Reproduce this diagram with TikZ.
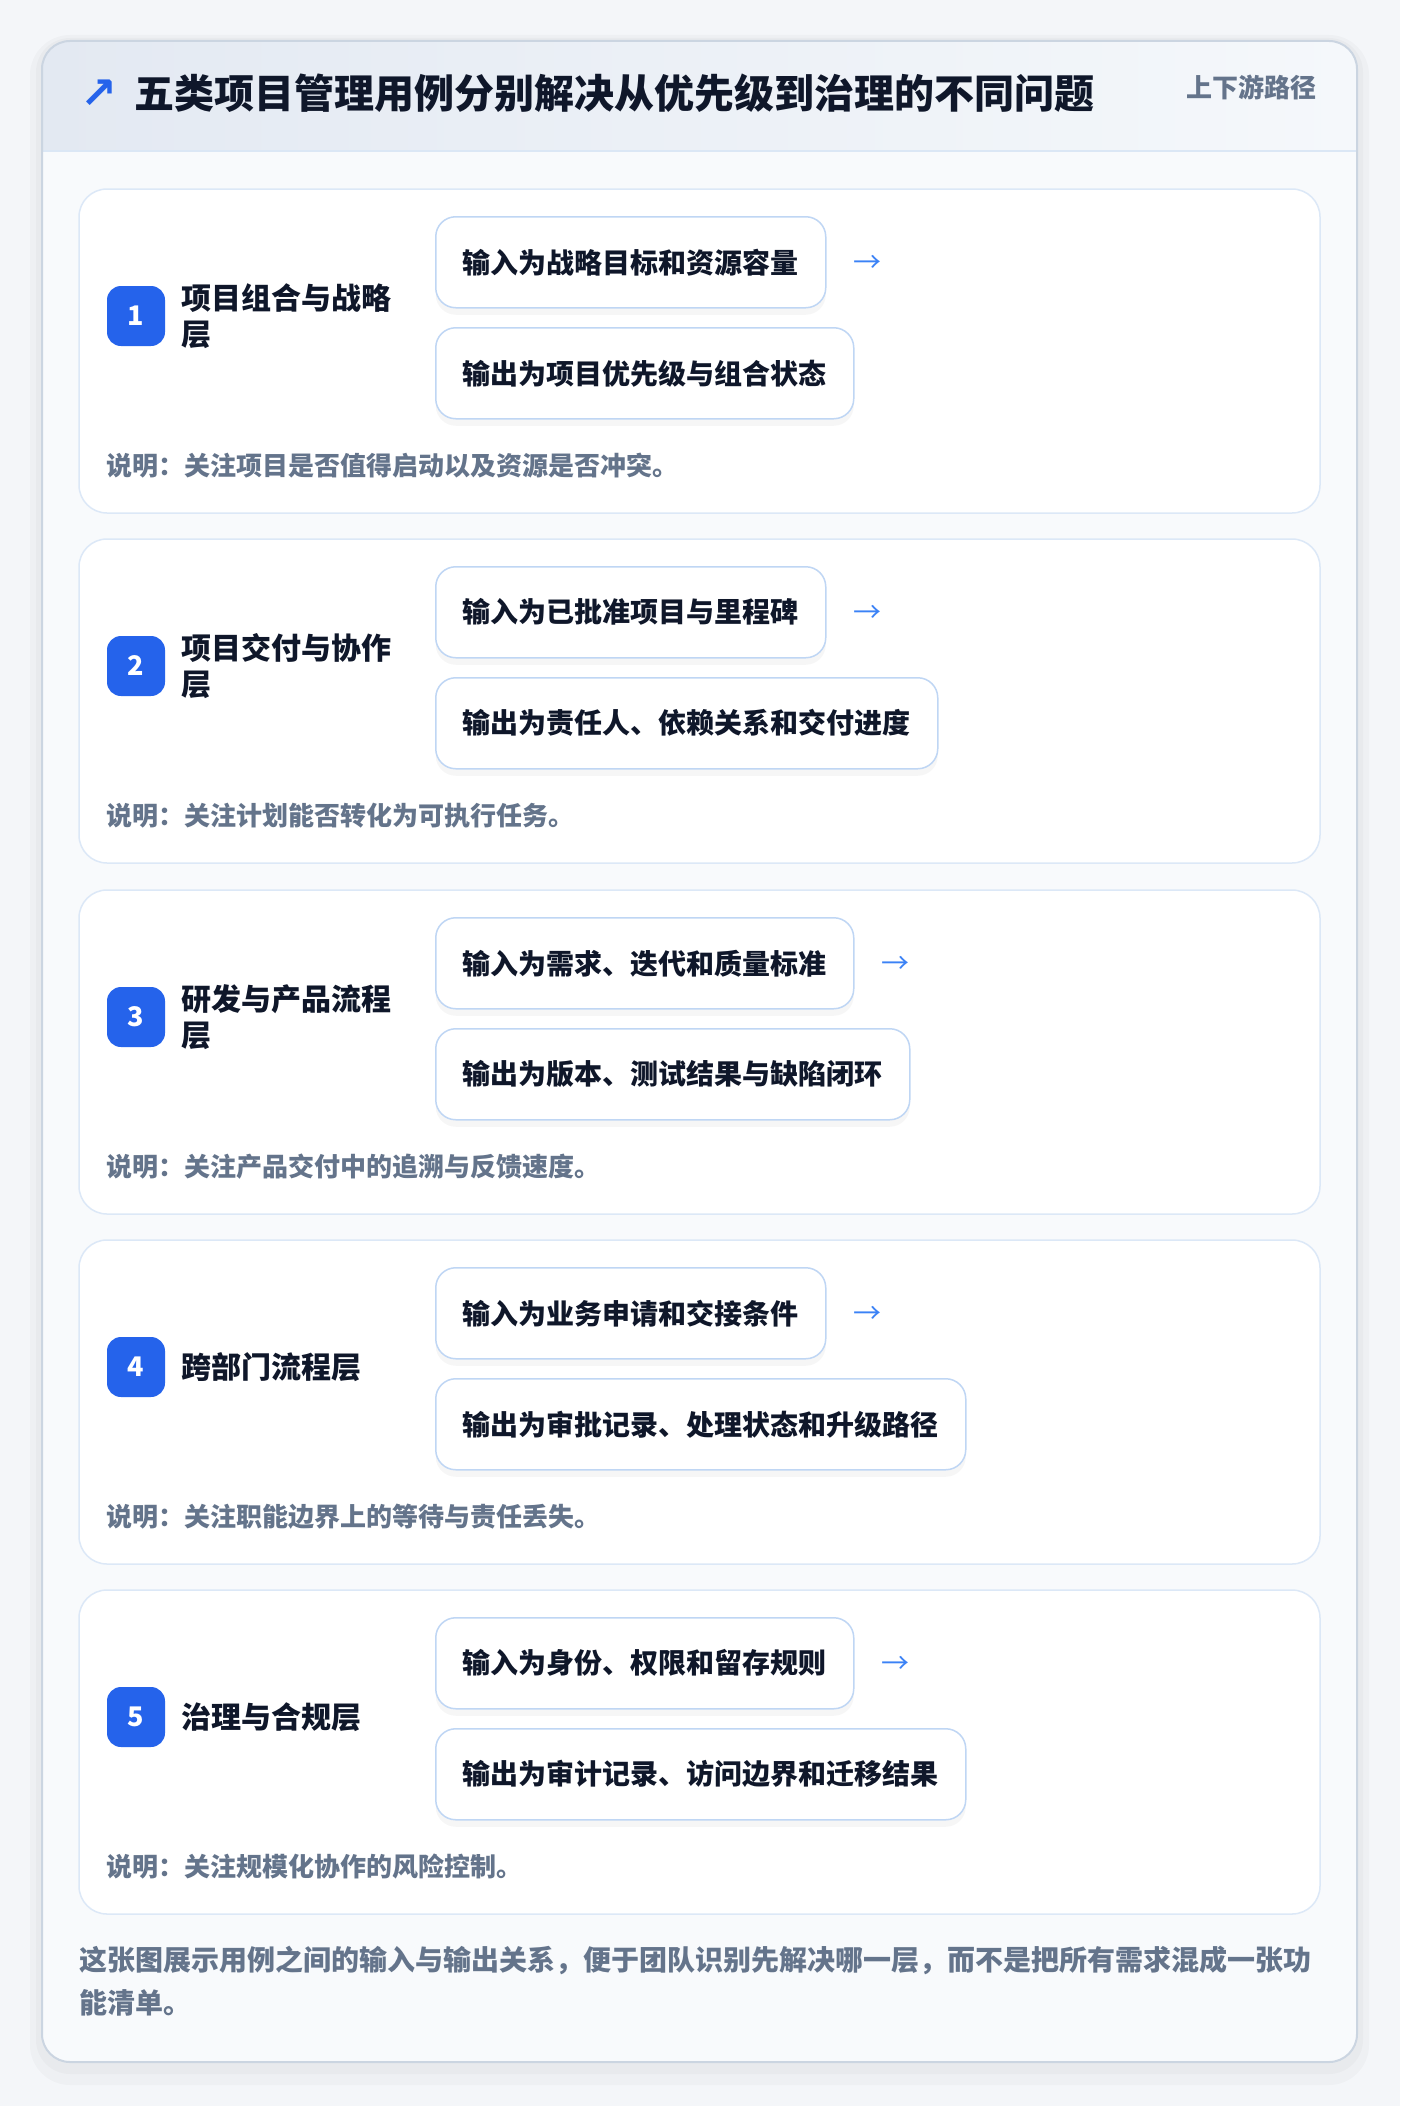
\documentclass[tikz,border=0pt]{standalone}
\usepackage{fontspec}
\setmainfont{Noto Sans CJK SC}
\newfontfamily\symfont{DejaVu Sans}
\usetikzlibrary{positioning}

\definecolor{pagebg}{HTML}{F4F6F9}
\definecolor{panelbg}{HTML}{F8FAFC}
\definecolor{panelline}{HTML}{CBD5E1}
\definecolor{headleft}{HTML}{E3E9F2}
\definecolor{headright}{HTML}{F5F8FB}
\definecolor{headline}{HTML}{DBE7F5}
\definecolor{cardline}{HTML}{DCE8F7}
\definecolor{boxline}{HTML}{BFD6F4}
\definecolor{badgeblue}{HTML}{2563EB}
\definecolor{arrowblue}{HTML}{3B82F6}
\definecolor{inkdark}{HTML}{0F172A}
\definecolor{inkgray}{HTML}{64748B}

\begin{document}
\begin{tikzpicture}[x=1pt, y=-1pt,
  card/.style={draw=cardline, fill=white, line width=1.5pt, rounded corners=28pt},
  badge/.style={fill=badgeblue, rounded corners=14pt, minimum width=58pt, minimum height=60pt,
    inner sep=0pt, text=white, font=\fontsize{27}{30}\selectfont\bfseries},
  layer/.style={anchor=west, align=left, inner sep=0pt, text=inkdark,
    font=\fontsize{30}{36}\selectfont\bfseries},
  flowbox/.style={anchor=north west, draw=boxline, line width=1.5pt, fill=white,
    rounded corners=20pt, minimum height=91pt, inner xsep=27pt, inner ysep=0pt, text=inkdark,
    font=\fontsize{28}{32}\selectfont\bfseries,
    preaction={fill=black, fill opacity=0.035, transform canvas={yshift=-7pt}}},
  flowarrow/.style={anchor=west, inner sep=0pt, text=arrowblue, font=\fontsize{28}{32}\selectfont},
  note/.style={anchor=west, inner sep=0pt, text=inkgray, font=\fontsize{26}{30}\selectfont\bfseries}
]
\useasboundingbox (0,0) rectangle (1400,2106);
\fill[pagebg] (0,0) rectangle (1400,2106);

% outer panel with a soft shadow
\fill[black, opacity=0.025, rounded corners=40pt] (30,35) rectangle (1369,2085);
\fill[black, opacity=0.025, rounded corners=34pt] (36,38) rectangle (1363,2074);
\fill[panelbg, rounded corners=28pt] (42,41) rectangle (1357,2062);
\begin{scope}
  \clip[rounded corners=28pt] (42,41) rectangle (1357,2062);
  \shade[left color=headleft, right color=headright] (42,41) rectangle (1357,151);
  \draw[headline, line width=2pt] (42,151) -- (1357,151);
\end{scope}
\draw[panelline, line width=2pt, rounded corners=28pt] (42,41) rectangle (1357,2062);

\node[inner sep=0pt, text=badgeblue, font=\symfont\bfseries\fontsize{44}{44}\selectfont] (icon) at (99,94) {↗};
\node[anchor=west, inner sep=0pt, text=inkdark, font=\fontsize{40}{46}\selectfont\bfseries] (title) at (134,93)
  {五类项目管理用例分别解决从优先级到治理的不同问题};
\node[anchor=east, inner sep=0pt, text=inkgray, font=\fontsize{26}{30}\selectfont\bfseries] (path) at (1317,87)
  {上下游路径};

% 1
\draw[card] (79,189) rectangle (1320,513);
\node[badge] (b1) at (136,316) {1};
\node[layer] (t1) at ([xshift=16pt]b1.east) {项目组合与战略\\层};
\node[flowbox] (in1) at (435,216) {输入为战略目标和资源容量};
\node[flowbox] (out1) at (435,327) {输出为项目优先级与组合状态};
\node[flowarrow] (a1) at ([xshift=27pt,yshift=-2pt]in1.east) {→};
\node[note] (n1) at (106,466) {说明：关注项目是否值得启动以及资源是否冲突。};

% 2
\draw[card] (79,539) rectangle (1320,863);
\node[badge] (b2) at (136,666) {2};
\node[layer] (t2) at ([xshift=16pt]b2.east) {项目交付与协作\\层};
\node[flowbox] (in2) at (435,566) {输入为已批准项目与里程碑};
\node[flowbox] (out2) at (435,677) {输出为责任人、依赖关系和交付进度};
\node[flowarrow] (a2) at ([xshift=27pt,yshift=-2pt]in2.east) {→};
\node[note] (n2) at (106,816) {说明：关注计划能否转化为可执行任务。};

% 3
\draw[card] (79,890) rectangle (1320,1214);
\node[badge] (b3) at (136,1017) {3};
\node[layer] (t3) at ([xshift=16pt]b3.east) {研发与产品流程\\层};
\node[flowbox] (in3) at (435,917) {输入为需求、迭代和质量标准};
\node[flowbox] (out3) at (435,1028) {输出为版本、测试结果与缺陷闭环};
\node[flowarrow] (a3) at ([xshift=27pt,yshift=-2pt]in3.east) {→};
\node[note] (n3) at (106,1167) {说明：关注产品交付中的追溯与反馈速度。};

% 4
\draw[card] (79,1240) rectangle (1320,1564);
\node[badge] (b4) at (136,1367) {4};
\node[layer] (t4) at ([xshift=16pt]b4.east) {跨部门流程层};
\node[flowbox] (in4) at (435,1267) {输入为业务申请和交接条件};
\node[flowbox] (out4) at (435,1378) {输出为审批记录、处理状态和升级路径};
\node[flowarrow] (a4) at ([xshift=27pt,yshift=-2pt]in4.east) {→};
\node[note] (n4) at (106,1517) {说明：关注职能边界上的等待与责任丢失。};

% 5
\draw[card] (79,1590) rectangle (1320,1914);
\node[badge] (b5) at (136,1717) {5};
\node[layer] (t5) at ([xshift=16pt]b5.east) {治理与合规层};
\node[flowbox] (in5) at (435,1617) {输入为身份、权限和留存规则};
\node[flowbox] (out5) at (435,1728) {输出为审计记录、访问边界和迁移结果};
\node[flowarrow] (a5) at ([xshift=27pt,yshift=-2pt]in5.east) {→};
\node[note] (n5) at (106,1867) {说明：关注规模化协作的风险控制。};

% footer
\node[anchor=west, align=left, inner sep=0pt, text=inkgray, font=\fontsize{28}{43}\selectfont\bfseries] (foot) at (79,1981)
  {这张图展示用例之间的输入与输出关系，便于团队识别先解决哪一层，而不是把所有需求混成一张功\\能清单。};
\end{tikzpicture}
\end{document}
